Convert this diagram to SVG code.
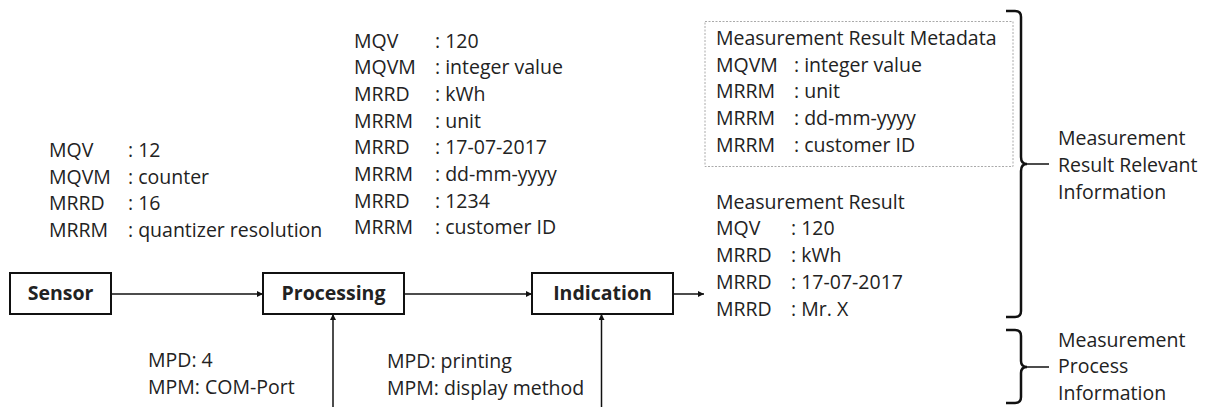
<svg xmlns="http://www.w3.org/2000/svg" width="1206" height="407" viewBox="0 0 1206 407">
<defs>
<style>
text{font-family:"Open Sans","Liberation Sans",sans-serif;font-size:19.5px;fill:#222}
.b{font-weight:bold;text-anchor:middle}
.box{fill:#fff;stroke:#111;stroke-width:2}
.ln{stroke:#111;stroke-width:1.5;fill:none}
.br{stroke:#111;stroke-width:2.5;fill:none}
</style>
<marker id="ah" viewBox="0 0 10 10" refX="10" refY="5" markerWidth="6" markerHeight="6" orient="auto" markerUnits="userSpaceOnUse">
<path d="M0,0 L10,5 L0,10 z" fill="#111"/>
</marker>
</defs>
<rect width="1206" height="407" fill="#fff"/>
<g id="connectors">
<line class="ln" x1="111" y1="294" x2="263" y2="294" marker-end="url(#ah)"/>
<line class="ln" x1="404" y1="294" x2="532" y2="294" marker-end="url(#ah)"/>
<line class="ln" x1="673" y1="294" x2="704" y2="294" marker-end="url(#ah)"/>
<line class="ln" x1="333" y1="407" x2="333" y2="314" marker-end="url(#ah)"/>
<line class="ln" x1="601.5" y1="407" x2="601.5" y2="314" marker-end="url(#ah)"/>
</g>
<g id="sensor">
<rect class="box" x="10" y="273" width="101" height="41"/>
<text class="b" x="60.5" y="300">Sensor</text>
</g>
<g id="processing">
<rect class="box" x="263" y="273" width="141" height="41"/>
<text class="b" x="333.5" y="300">Processing</text>
</g>
<g id="indication">
<rect class="box" x="532" y="273" width="141" height="41"/>
<text class="b" x="602.5" y="300">Indication</text>
</g>
<g id="sensor-data">
<text x="49" y="157">MQV</text><text x="128" y="157">: 12</text>
<text x="49" y="183.7">MQVM</text><text x="128" y="183.7">: counter</text>
<text x="49" y="210.4">MRRD</text><text x="128" y="210.4">: 16</text>
<text x="49" y="237">MRRM</text><text x="128" y="237">: quantizer resolution</text>
</g>
<g id="processing-data">
<text x="354" y="47.5">MQV</text><text x="435" y="47.5">: 120</text>
<text x="354" y="74.2">MQVM</text><text x="435" y="74.2">: integer value</text>
<text x="354" y="100.9">MRRD</text><text x="435" y="100.9">: kWh</text>
<text x="354" y="127.6">MRRM</text><text x="435" y="127.6">: unit</text>
<text x="354" y="154.3">MRRD</text><text x="435" y="154.3">: 17-07-2017</text>
<text x="354" y="181">MRRM</text><text x="435" y="181">: dd-mm-yyyy</text>
<text x="354" y="207.7">MRRD</text><text x="435" y="207.7">: 1234</text>
<text x="354" y="234.4">MRRM</text><text x="435" y="234.4">: customer ID</text>
</g>
<g id="process-info-1">
<text x="148" y="367">MPD: 4</text>
<text x="148" y="394">MPM: COM-Port</text>
</g>
<g id="process-info-2">
<text x="387" y="368">MPD: printing</text>
<text x="387" y="395">MPM: display method</text>
</g>
<g id="metadata">
<rect x="705" y="21.5" width="308" height="145" fill="none" stroke="#aaa" stroke-width="1" stroke-dasharray="2,1.5"/>
<text x="716" y="45">Measurement Result Metadata</text>
<text x="716" y="71.7">MQVM</text><text x="794" y="71.7">: integer value</text>
<text x="716" y="98.4">MRRM</text><text x="794" y="98.4">: unit</text>
<text x="716" y="125.1">MRRM</text><text x="794" y="125.1">: dd-mm-yyyy</text>
<text x="716" y="151.8">MRRM</text><text x="794" y="151.8">: customer ID</text>
</g>
<g id="result">
<text x="716" y="208.5">Measurement Result</text>
<text x="716" y="235.3">MQV</text><text x="791" y="235.3">: 120</text>
<text x="716" y="262.1">MRRD</text><text x="791" y="262.1">: kWh</text>
<text x="716" y="288.9">MRRD</text><text x="791" y="288.9">: 17-07-2017</text>
<text x="716" y="315.7">MRRD</text><text x="791" y="315.7">: Mr. X</text>
</g>
<g id="brace-result">
<path class="br" d="M1006,11 L1015,11 Q1021,11 1021,17 L1021,157 Q1021,164 1027,164 Q1021,164 1021,171 L1021,311 Q1021,317 1015,317 L1006,317"/>
<line class="ln" x1="1027" y1="164" x2="1049" y2="164" stroke-width="2"/>
<text x="1058" y="145">Measurement</text>
<text x="1058" y="172">Result Relevant</text>
<text x="1058" y="199">Information</text>
</g>
<g id="brace-process">
<path class="br" d="M1006,330 L1015,330 Q1021,330 1021,336 L1021,361 Q1021,367 1027,367 Q1021,367 1021,373 L1021,397 Q1021,403 1015,403 L1006,403"/>
<line class="ln" x1="1027" y1="367" x2="1049" y2="367" stroke-width="2"/>
<text x="1058" y="346.7">Measurement</text>
<text x="1058" y="373.4">Process</text>
<text x="1058" y="400">Information</text>
</g>
</svg>
